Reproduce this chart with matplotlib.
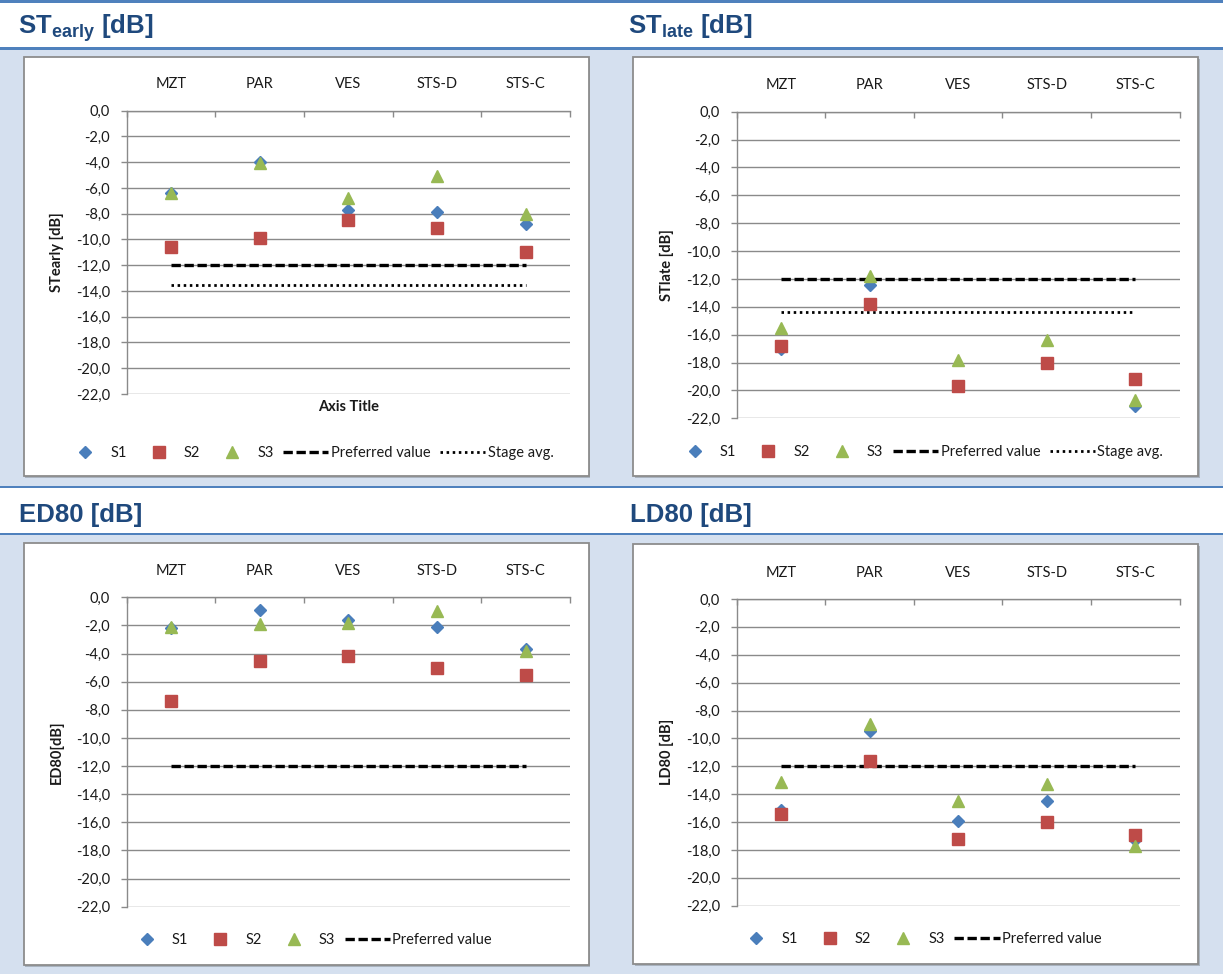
# -*- coding: utf-8 -*-
"""
Stage support (ST) and early/late decay (ED80 / LD80) per stage, 3 sessions each.
"""

import numpy as np
import matplotlib
matplotlib.use("Agg")
import matplotlib.pyplot as plt
from matplotlib.patches import Rectangle
from matplotlib.lines import Line2D
from matplotlib.ticker import FixedLocator, FuncFormatter

plt.rcParams["font.family"] = ["Lato", "DejaVu Sans"]
plt.rcParams["mathtext.fontset"] = "custom"
plt.rcParams["mathtext.bf"] = "Liberation Sans:bold"
plt.rcParams["mathtext.rm"] = "Liberation Sans"

# =====================================================================
# DATA
# =====================================================================

stages = ["MZT", "PAR", "VES", "STS-D", "STS-C"]

st_early_s1 = [-6.4, -4.0, -7.7, -7.9, -8.8]
st_early_s2 = [-10.6, -9.9, -8.5, -9.1, -11.0]
st_early_s3 = [-6.4, -4.1, -6.8, -5.1, -8.0]
st_early_pref = [-12.0, -12.0, -12.0, -12.0, -12.0]
st_early_avg = [-13.5, -13.5, -13.5, -13.5, -13.5]

st_late_s1 = [-17.0, -12.4, -19.7, -18.0, -21.1]
st_late_s2 = [-16.8, -13.8, -19.7, -18.0, -19.2]
st_late_s3 = [-15.5, -11.8, -17.8, -16.4, -20.7]
st_late_pref = [-12.0, -12.0, -12.0, -12.0, -12.0]
st_late_avg = [-14.4, -14.4, -14.4, -14.4, -14.4]

ed80_s1 = [-2.2, -0.9, -1.6, -2.1, -3.7]
ed80_s2 = [-7.4, -4.5, -4.2, -5.0, -5.5]
ed80_s3 = [-2.1, -1.9, -1.8, -1.0, -3.8]
ed80_pref = [-12.0, -12.0, -12.0, -12.0, -12.0]

ld80_s1 = [-15.1, -9.5, -15.9, -14.5, -17.3]
ld80_s2 = [-15.4, -11.6, -17.2, -16.0, -16.9]
ld80_s3 = [-13.1, -9.0, -14.5, -13.3, -17.7]
ld80_pref = [-12.0, -12.0, -12.0, -12.0, -12.0]

y_ticks = [0, -2, -4, -6, -8, -10, -12, -14, -16, -18, -20, -22]

# =====================================================================
# STYLE
# =====================================================================

W, H = 1223, 974
BLUE_LINE = "#4f81bd"
LIGHT_BG = "#d5e0ef"
HEAD_COLOR = "#1f497d"
GRID = "#8a8a8a"
TXT = "#1a1a1a"
C_S1, C_S2, C_S3 = "#4a7ebb", "#be4b48", "#98b954"
FS = 10.5

fig = plt.figure(figsize=(W / 100, H / 100), dpi=100)

# background canvas in pixel coordinates
bg = fig.add_axes([0, 0, 1, 1])
bg.set_xlim(0, W)
bg.set_ylim(H, 0)
bg.axis("off")


def band(y0, y1, color):
    bg.add_patch(Rectangle((0, y0), W, y1 - y0, facecolor=color, edgecolor="none"))


band(0, 2.7, BLUE_LINE)
band(46.7, 50, BLUE_LINE)
band(50, 485.5, LIGHT_BG)
band(486, 487.8, BLUE_LINE)
band(533.3, 535, BLUE_LINE)
band(535, H, LIGHT_BG)

boxes = {
    "tl": (23.7, 57, 588.6, 476),
    "tr": (633.4, 57, 1198, 476),
    "bl": (23.7, 543, 588.6, 965),
    "br": (633.4, 544, 1198, 964),
}
for x0, y0, x1, y1 in boxes.values():
    bg.add_patch(Rectangle((x0 + 1.5, y0 + 1.5), x1 - x0, y1 - y0,
                           facecolor="#a9b3bf", edgecolor="none"))
    bg.add_patch(Rectangle((x0, y0), x1 - x0, y1 - y0,
                           facecolor="white", edgecolor="#8c8c8c", lw=1.3))

head_kw = dict(fontsize=18.5, fontweight="bold", color=HEAD_COLOR,
               family="Liberation Sans", va="baseline", ha="left")
bg.text(18, 33, r"ST$_{\mathbf{early}}$ [dB]", **head_kw)
bg.text(628, 33, r"ST$_{\mathbf{late}}$ [dB]", **head_kw)
bg.text(19, 522, "ED80 [dB]", **head_kw)
bg.text(630, 522, "LD80 [dB]", **head_kw)


def px_axes(x0, y0, x1, y1):
    return fig.add_axes([x0 / W, 1 - y1 / H, (x1 - x0) / W, (y1 - y0) / H])


def fmt_tick(v, pos):
    return f"{v:.1f}".replace(".", ",").replace("-0,0", "0,0")


def draw_panel(rect, box, s1, s2, s3, pref, avg, ylabel, legend_y, axis_title=False):
    ax = px_axes(*rect)
    width_px = rect[2] - rect[0]
    x = np.arange(len(stages))

    ax.set_xlim(-0.5, len(stages) - 0.5)
    ax.set_ylim(-22, 0)
    ax.set_facecolor("none")
    ax.set_axisbelow(True)

    ax.yaxis.set_major_locator(FixedLocator(y_ticks))
    ax.yaxis.set_major_formatter(FuncFormatter(fmt_tick))
    ax.grid(axis="y", color=GRID, lw=1.0)
    for s in ["right", "bottom"]:
        ax.spines[s].set_visible(False)
    for s in ["left", "top"]:
        ax.spines[s].set_color(GRID)
        ax.spines[s].set_linewidth(1.0)

    ax.xaxis.tick_top()
    ax.set_xticks(x)
    ax.set_xticklabels(stages)
    ax.set_xticks(np.arange(-0.5, len(stages)), minor=True)
    ax.tick_params(axis="x", which="major", length=0, pad=14, labelsize=FS, labelcolor=TXT)
    ax.tick_params(axis="x", which="minor", direction="in", length=4, width=1,
                   color=GRID, top=True, bottom=False)
    ax.tick_params(axis="y", length=4, width=1, color=GRID, pad=8,
                   labelsize=FS, labelcolor=TXT)

    ax.text(-70 / width_px, 0.5, ylabel, transform=ax.transAxes, rotation=90,
            ha="center", va="center", fontsize=FS, fontweight="bold", color=TXT)
    if axis_title:
        ax.text(0.5, -13 / (rect[3] - rect[1]), "Axis Title", transform=ax.transAxes,
                ha="center", va="center", fontsize=FS, fontweight="bold", color=TXT)

    dash = (0, (2.8, 1.1))
    dots = (0, (0.9, 1.3))
    ax.plot(x, pref, color="black", lw=2.4, ls=dash, zorder=2)
    if avg is not None:
        ax.plot(x, avg, color="black", lw=2.0, ls=dots, zorder=2)

    ax.plot(x, s1, ls="none", marker="D", ms=6.2, color=C_S1, mec=C_S1, zorder=3, clip_on=False)
    ax.plot(x, s2, ls="none", marker="s", ms=8.5, color=C_S2, mec=C_S2, zorder=3, clip_on=False)
    ax.plot(x, s3, ls="none", marker="^", ms=8.5, color=C_S3, mec=C_S3, zorder=4, clip_on=False)

    handles = [
        Line2D([], [], ls="none", marker="D", ms=6.2, color=C_S1),
        Line2D([], [], ls="none", marker="s", ms=8.5, color=C_S2),
        Line2D([], [], ls="none", marker="^", ms=8.5, color=C_S3),
        Line2D([], [], color="black", lw=2.4, ls=dash),
    ]
    labels = ["S1", "S2", "S3", "Preferred value"]
    if avg is not None:
        handles.append(Line2D([], [], color="black", lw=2.0, ls=dots))
        labels.append("Stage avg.")

    cx = (box[0] + box[2]) / 2 + 2
    fig.legend(handles, labels, loc="center", bbox_to_anchor=(cx / W, 1 - legend_y / H),
               ncol=len(handles), frameon=False, fontsize=FS, handlelength=3.1,
               handletextpad=0.17, columnspacing=0.65, borderpad=0, labelcolor=TXT)
    return ax


draw_panel((126.5, 110.7, 570, 394), boxes["tl"], st_early_s1, st_early_s2, st_early_s3,
           st_early_pref, st_early_avg, "STearly [dB]", 452.7, axis_title=True)
draw_panel((736.7, 111.7, 1179.5, 418.3), boxes["tr"], st_late_s1, st_late_s2, st_late_s3,
           st_late_pref, st_late_avg, "STlate [dB]", 451.7)
draw_panel((126.5, 597.3, 570, 906.7), boxes["bl"], ed80_s1, ed80_s2, ed80_s3,
           ed80_pref, None, "ED80[dB]", 940)
draw_panel((736.7, 599, 1179.5, 905.7), boxes["br"], ld80_s1, ld80_s2, ld80_s3,
           ld80_pref, None, "LD80 [dB]", 939)

fig.savefig("out.png", dpi=100)
